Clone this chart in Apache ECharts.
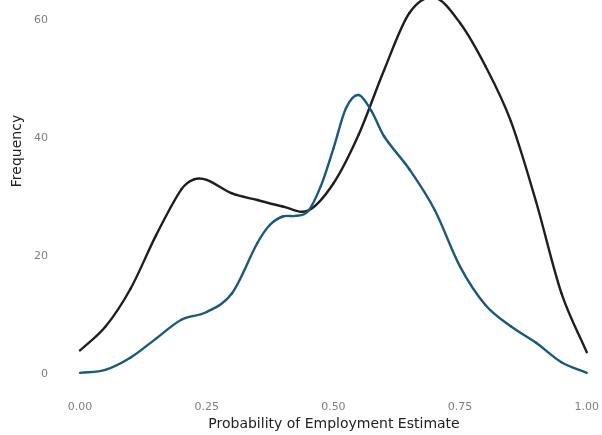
<!DOCTYPE html>
<html>
<head>
<meta charset="utf-8">
<script src="https://cdn.jsdelivr.net/npm/echarts@6/dist/echarts.min.js"></script>
<style>
  html, body { margin: 0; padding: 0; background: #ffffff; }
  #chart { width: 602px; height: 435px; }
</style>
</head>
<body>
<div id="chart"></div>
<script>
// Density-style frequency curves of the employment probability estimate
const xTicks = [0, 0.25, 0.5, 0.75, 1];
const yTicks = [0, 20, 40, 60];

const blackEstimate = [0, 0.05, 0.1, 0.15, 0.2, 0.225, 0.25, 0.3, 0.35, 0.4, 0.45, 0.5,
                       0.55, 0.6, 0.65, 0.7, 0.75, 0.8, 0.85, 0.9, 0.95, 1.0];
const blackFreq = [4.0, 8.0, 14.5, 23.5, 31.3, 33.0, 32.9, 30.6, 29.5, 28.4, 27.7, 32.3,
                   40.6, 51.5, 61.2, 63.8, 59.5, 52.2, 42.9, 29.2, 13.7, 3.7];

const blueEstimate = [0, 0.05, 0.1, 0.15, 0.2, 0.25, 0.3, 0.35, 0.375, 0.4, 0.425, 0.45,
                      0.475, 0.5, 0.525, 0.55, 0.575, 0.6, 0.65, 0.7, 0.75, 0.8, 0.85,
                      0.9, 0.95, 1.0];
const blueFreq = [0.2, 0.7, 2.8, 6.0, 9.2, 10.5, 13.7, 22.2, 25.3, 26.7, 26.8, 27.6,
                  31.8, 38.2, 45.1, 47.3, 44.6, 40.3, 34.7, 27.8, 18.2, 11.7, 8.1,
                  5.3, 2.0, 0.2];

const pairs = (xs, ys) => xs.map((x, i) => [x, ys[i]]);

// Each data item draws the curve segment to the next point as a cubic
// Hermite piece in pixel space, using the axes to place the points.
function smoothSegment(xs, ys, color) {
  return function (params, api) {
    const i = params.dataIndex;
    const n = xs.length;
    if (i >= n - 1) return null;
    const at = k => api.coord([xs[k], ys[k]]);
    const slope = k => {
      const a = at(Math.max(0, k - 1));
      const b = at(Math.min(n - 1, k + 1));
      return (b[1] - a[1]) / (b[0] - a[0]);
    };
    const p1 = at(i), p2 = at(i + 1);
    const dx = (p2[0] - p1[0]) / 3;
    const m1 = slope(i), m2 = slope(i + 1);
    return {
      type: 'bezierCurve',
      shape: {
        x1: p1[0], y1: p1[1],
        cpx1: p1[0] + dx, cpy1: p1[1] + m1 * dx,
        cpx2: p2[0] - dx, cpy2: p2[1] - m2 * dx,
        x2: p2[0], y2: p2[1]
      },
      style: { fill: null, stroke: color, lineWidth: 2.4, lineCap: 'round' },
      silent: true
    };
  };
}

const chart = echarts.init(document.getElementById('chart'), null, { renderer: 'canvas' });

const labelStyle = { color: '#7f7f7f', fontFamily: 'DejaVu Sans', fontSize: 11 };

chart.setOption({
  animation: false,
  backgroundColor: '#ffffff',
  grid: { left: 80, right: 14, top: 0, bottom: 61 },
  xAxis: {
    type: 'value',
    min: xTicks[0],
    max: xTicks[xTicks.length - 1],
    interval: 0.25,
    axisLine: { show: false },
    axisTick: { show: false },
    splitLine: { show: false },
    axisLabel: Object.assign({ margin: 28, formatter: v => v.toFixed(2) }, labelStyle)
  },
  yAxis: {
    type: 'value',
    min: yTicks[0],
    max: 63.4,
    interval: 20,
    axisLine: { show: false },
    axisTick: { show: false },
    splitLine: { show: false },
    axisLabel: Object.assign({
      margin: 32,
      showMaxLabel: false,
      formatter: v => (yTicks.indexOf(v) >= 0 ? String(v) : '')
    }, labelStyle)
  },
  graphic: [
    {
      type: 'text',
      x: 334, y: 424,
      style: {
        text: 'Probability of Employment Estimate',
        fill: '#222222', fontFamily: 'DejaVu Sans', fontSize: 14,
        textAlign: 'center', textVerticalAlign: 'middle'
      }
    },
    {
      type: 'text',
      x: 17, y: 151, rotation: Math.PI / 2,
      style: {
        text: 'Frequency',
        fill: '#222222', fontFamily: 'DejaVu Sans', fontSize: 14,
        textAlign: 'center', textVerticalAlign: 'middle'
      }
    }
  ],
  series: [
    {
      type: 'custom',
      data: pairs(blackEstimate, blackFreq),
      encode: { x: 0, y: 1 },
      renderItem: smoothSegment(blackEstimate, blackFreq, '#1c211d')
    },
    {
      type: 'custom',
      data: pairs(blueEstimate, blueFreq),
      encode: { x: 0, y: 1 },
      renderItem: smoothSegment(blueEstimate, blueFreq, '#1b5a7b')
    }
  ]
});
</script>
</body>
</html>
